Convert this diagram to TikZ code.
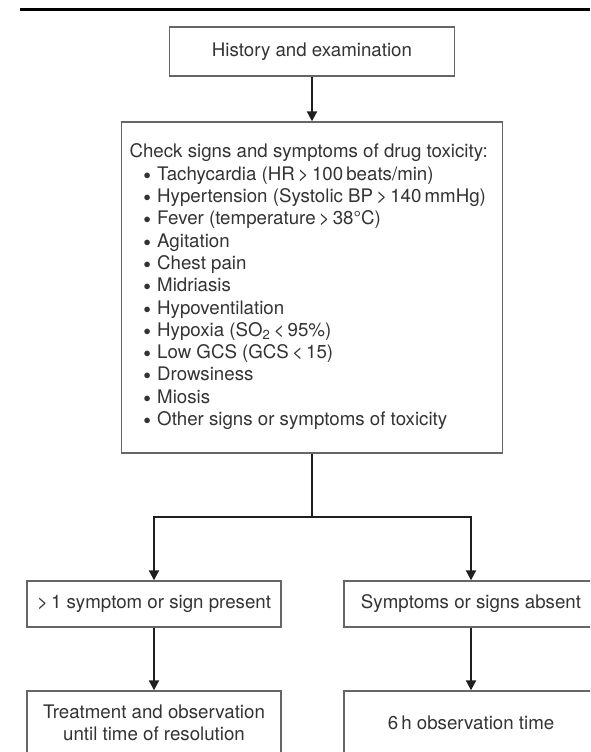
\documentclass[tikz,border=0pt]{standalone}
\usepackage{fontspec}
\setmainfont{TeX Gyre Heros}
\usetikzlibrary{arrows.meta}

\newcommand{\sign}[1]{\\\hspace*{14pt}\raisebox{1pt}{\fontsize{15}{15}\selectfont$\bullet$}\hspace{6.5pt}#1}

\begin{document}
\begin{tikzpicture}[x=1pt, y=-1pt,
  every node/.style = {shape=rectangle, draw=black!60, line width=1.4pt,
    text=black!80, align=center, inner sep=0pt,
    font=\fontsize{18.7}{22.3}\selectfont},
  arr/.style = {draw=black!88, line width=2pt,
    -{Triangle[length=10pt, width=10pt]}}]
  \clip (0,0) rectangle (590,752);
  \draw[line width=3pt] (20,10) -- (590,10);
  \node[minimum width=285pt, minimum height=49pt] (hist) at (312,51.5)
    {History and examination};
  \node[minimum width=381pt, minimum height=331pt, inner xsep=8pt] (check) at (312,287.5)
    {\parbox[c][287pt][t]{365pt}{Check signs and symptoms of drug toxicity:
      \sign{Tachycardia (HR\,>\,100\,beats/min)}
      \sign{Hypertension (Systolic BP\,>\,140\,mmHg)}
      \sign{Fever (temperature\,>\,38°C)}
      \sign{Agitation}
      \sign{Chest pain}
      \sign{Midriasis}
      \sign{Hypoventilation}
      \sign{Hypoxia (SO\textsubscript{2}\,<\,95\%)}
      \sign{Low GCS (GCS\,<\,15)}
      \sign{Drowsiness}
      \sign{Miosis}
      \sign{Other signs or symptoms of toxicity}}};
  \coordinate (fork) at (312,517);
  \node[minimum width=254pt, minimum height=46pt] (present) at (154,604)
    {>\,1 symptom or sign present};
  \node[minimum width=254pt, minimum height=46pt] (absent) at (471,604)
    {Symptoms or signs absent};
  \node[minimum width=254pt, minimum height=64pt] (treat) at (154,723)
    {Treatment and observation\\until time of resolution};
  \node[minimum width=254pt, minimum height=64pt] (obs) at (471,723)
    {6\,h observation time};
  \draw[arr] (hist) -- (check);
  \draw[arr] (check) -- (fork) -| (present);
  \draw[arr] (fork) -| (absent);
  \draw[arr] (present) -- (treat);
  \draw[arr] (absent) -- (obs);
\end{tikzpicture}
\end{document}
